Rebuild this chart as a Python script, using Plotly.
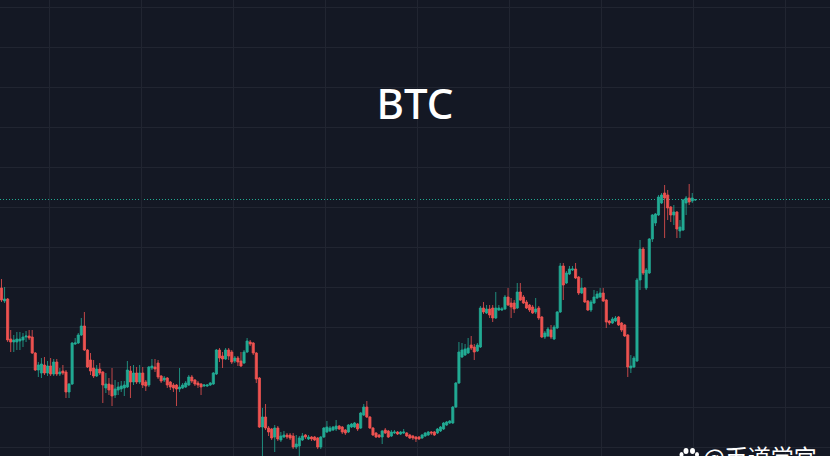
import plotly.graph_objects as go

opens = [61680,61550,61570,61170,61140,61140,61150,61160,61190,61200,
61190,61030,60860,60830,60910,60830,60900,60820,60940,60820,
60850,60840,60640,60720,61120,61130,61210,61300,61060,60960,
60880,60800,60870,60840,60680,60720,60710,60610,60660,60670,
60680,60690,60850,60740,60830,60740,60830,60740,60710,60880,
60890,60930,60800,60760,60780,60740,60710,60710,60670,60680,
60690,60710,60790,60760,60730,60720,60700,60700,60710,60720,
60820,61060,61000,60970,61060,61040,60950,60980,60950,60930,
61040,61140,61130,61030,60780,60290,60390,60280,60270,60190,
60280,60160,60190,60210,60210,60200,60090,60100,60160,60210,
60170,60190,60190,60180,60090,60190,60240,60250,60260,60270,
60300,60290,60260,60240,60290,60290,60320,60280,60410,60490,
60390,60280,60230,60210,60190,60260,60250,60200,60230,60240,
60220,60230,60230,60210,60200,60190,60190,60180,60200,60210,
60240,60240,60230,60250,60270,60310,60330,60330,60490,60730,
60990,61010,61030,61110,61090,61050,61090,61480,61430,61470,
61480,61380,61460,61460,61470,61590,61530,61530,61480,61640,
61590,61540,61510,61490,61440,61480,61390,61190,61200,61260,
61170,61280,61440,61900,61730,61820,61860,61870,61790,61630,
61680,61550,61460,61530,61580,61590,61630,61560,61350,61330,
61350,61390,61330,61310,61210,60880,60890,60950,61760,62070,
61680,61830,62170,62330,62410,62530,62630,62610,62490,62410,
62440,62250,62260,62530,62580,62550,62560]

closes = [61560,61570,61160,61140,61160,61170,61170,61190,61200,61180,
61030,60860,60910,60920,60830,60900,60820,60940,60820,60840,
60830,60640,60720,61130,61130,61210,61300,61060,60890,60850,
60800,60870,60830,60710,60720,60660,60600,60670,60690,60700,
60710,60860,60740,60830,60740,60830,60710,60700,60890,60900,
60870,60790,60750,60780,60710,60690,60680,60670,60690,60710,
60730,60790,60750,60720,60710,60690,60710,60710,60730,60830,
61060,60980,60970,61060,61000,60940,60980,60940,60900,61040,
61150,61120,61030,60770,60290,60390,60280,60240,60180,60280,
60170,60200,60210,60190,60180,60090,60120,60180,60200,60190,
60190,60170,60160,60090,60190,60280,60290,60280,60290,60300,
60270,60240,60230,60310,60320,60330,60270,60430,60490,60390,
60280,60210,60190,60190,60250,60230,60190,60240,60240,60220,
60240,60240,60200,60180,60180,60170,60170,60210,60230,60240,
60230,60210,60270,60290,60330,60340,60350,60490,60730,61040,
61060,61070,61080,61080,61040,61110,61480,61440,61470,61410,
61380,61480,61480,61470,61590,61510,61490,61470,61640,61560,
61530,61480,61460,61430,61470,61380,61190,61230,61270,61190,
61290,61440,61900,61710,61830,61870,61870,61780,61630,61680,
61540,61460,61540,61590,61620,61630,61550,61340,61330,61370,
61380,61310,61260,61200,60890,60900,60980,61760,62070,61830,
61860,62170,62410,62420,62590,62610,62580,62480,62410,62440,
62270,62290,62560,62580,62540,62580,62565]

highs = [61770,61690,61580,61260,61210,61240,61240,61230,61250,61260,
61260,61040,60940,60980,60990,60950,60980,60970,60970,60880,
60910,60860,60730,61140,61180,61230,61380,61440,61070,61030,
60960,60910,60930,60850,60830,60780,60880,60760,60740,60750,
60750,60950,60900,60910,60890,60910,60890,60760,60900,60970,
60970,60960,60810,60800,60790,60750,60730,60720,60880,60730,
60750,60810,60810,60770,60750,60730,60720,60720,60740,60840,
61070,61080,61040,61080,61080,61060,61000,61000,61040,61060,
61180,61160,61140,61040,60790,60480,60520,60300,60280,60310,
60300,60240,60250,60230,60230,60230,60210,60200,60230,60220,
60210,60200,60200,60190,60200,60290,60350,60300,60300,60360,
60310,60300,60270,60320,60330,60340,60330,60440,60520,60550,
60400,60290,60240,60220,60260,60280,60260,60260,60260,60250,
60250,60270,60240,60220,60210,60200,60200,60220,60240,60250,
60250,60250,60280,60300,60340,60350,60360,60500,60740,61140,
61130,61120,61180,61200,61120,61130,61500,61540,61510,61510,
61510,61640,61510,61490,61610,61680,61580,61560,61730,61730,
61610,61560,61520,61510,61580,61500,61400,61250,61290,61310,
61310,61450,61930,61930,61850,61900,61900,61930,61800,61780,
61690,61560,61560,61660,61650,61680,61680,61570,61360,61390,
61400,61400,61340,61320,61220,61010,61000,61780,62160,62090,
61880,62180,62420,62430,62610,62630,62710,62660,62500,62510,
62450,62360,62570,62600,62720,62630,62570]

lows = [61540,61530,61140,61040,61040,61060,61060,61090,61140,61160,
61020,60850,60790,60780,60810,60800,60800,60800,60800,60800,
60810,60580,60580,60710,61110,61120,61200,61050,60880,60810,
60780,60790,60810,60530,60630,60610,60500,60580,60610,60640,
60600,60680,60580,60710,60720,60720,60680,60650,60690,60860,
60840,60770,60730,60740,60680,60660,60640,60500,60640,60670,
60680,60700,60730,60700,60680,60610,60690,60690,60700,60710,
60810,60940,60880,60960,60960,60920,60930,60900,60890,60920,
61030,61100,61010,60730,60280,59980,60260,60200,60160,60040,
60150,60140,60180,60170,60160,60070,60070,60000,60150,60170,
60160,60150,60150,60070,60070,60180,60230,60240,60250,60250,
60260,60220,60210,60230,60280,60280,60250,60270,60400,60380,
60270,60200,60180,60180,60120,60220,60180,60190,60220,60210,
60210,60220,60190,60170,60160,60140,60160,60170,60190,60200,
60210,60200,60220,60240,60260,60300,60320,60320,60480,60720,
60980,61000,61020,61060,60960,61040,61080,61420,61420,61380,
61340,61370,61450,61450,61460,61500,61380,61430,61470,61550,
61520,61470,61440,61420,61420,61360,61180,61170,61190,61170,
61160,61270,61430,61560,61720,61810,61850,61770,61610,61620,
61530,61450,61440,61520,61570,61580,61540,61280,61310,61320,
61340,61300,61240,61190,60790,60830,60880,60940,61660,61810,
61660,61820,62140,62300,62400,62520,62180,62360,62340,62310,
62180,62180,62250,62410,62510,62530,62550]

bars = list(range(len(closes)))
last_price = closes[-1]

BG = "#141824"
GRID = "#212531"
UP = "#22ab94"
DOWN = "#ef5350"

fig = go.Figure(go.Candlestick(
    x=bars, open=opens, high=highs, low=lows, close=closes,
    increasing=dict(line=dict(color=UP, width=0.8), fillcolor=UP),
    decreasing=dict(line=dict(color=DOWN, width=0.8), fillcolor=DOWN),
    whiskerwidth=0,
    showlegend=False,
))

fig.update_layout(
    width=830, height=456,
    margin=dict(l=0, r=0, t=0, b=0),
    paper_bgcolor=BG, plot_bgcolor=BG,
    boxgap=0,
    showlegend=False,
    title=dict(text="BTC", x=0.5, xanchor="center", y=1 - 104 / 456, yanchor="middle",
               font=dict(family="Noto Sans, Open Sans, sans-serif", size=42, color="#ffffff", weight=500)),
    xaxis=dict(range=[-0.489, 269.87], tick0=15.5, dtick=30, showgrid=True, gridcolor=GRID,
               gridwidth=1, showticklabels=False, ticks="", zeroline=False, showline=False,
               rangeslider=dict(visible=False), fixedrange=True),
    yaxis=dict(range=[60000, 64560], tick0=64485, dtick=400, showgrid=True, gridcolor=GRID,
               gridwidth=1, showticklabels=False, ticks="", zeroline=False, showline=False,
               fixedrange=True),
    shapes=[
        dict(type="line", xref="paper", x0=0, x1=1, yref="y", y0=last_price, y1=last_price,
             line=dict(color=UP, width=1, dash="1px,2px"), layer="below"),
        dict(type="circle", xref="paper", yref="paper", x0=683.5/830, x1=688.5/830, y0=1-454/456, y1=1-448/456,
             fillcolor="#ffffff", line_width=0),
        dict(type="circle", xref="paper", yref="paper", x0=690/830, x1=695/830, y0=1-454/456, y1=1-448/456,
             fillcolor="#ffffff", line_width=0),
        dict(type="circle", xref="paper", yref="paper", x0=679.5/830, x1=683.5/830, y0=1-457/456, y1=1-452/456,
             fillcolor="#ffffff", line_width=0),
        dict(type="circle", xref="paper", yref="paper", x0=695/830, x1=699/830, y0=1-457/456, y1=1-452/456,
             fillcolor="#ffffff", line_width=0),
    ],
    annotations=[
        dict(text="@币道学宫", xref="paper", yref="paper", x=701/830, y=1 - 456/456,
             xanchor="left", yanchor="middle", showarrow=False,
             font=dict(family="Noto Sans CJK SC, sans-serif", size=23, color="#ffffff")),
    ],
)

fig.write_html("out.html", config=dict(displayModeBar=False),
               post_script="document.body.style.margin='0';")
